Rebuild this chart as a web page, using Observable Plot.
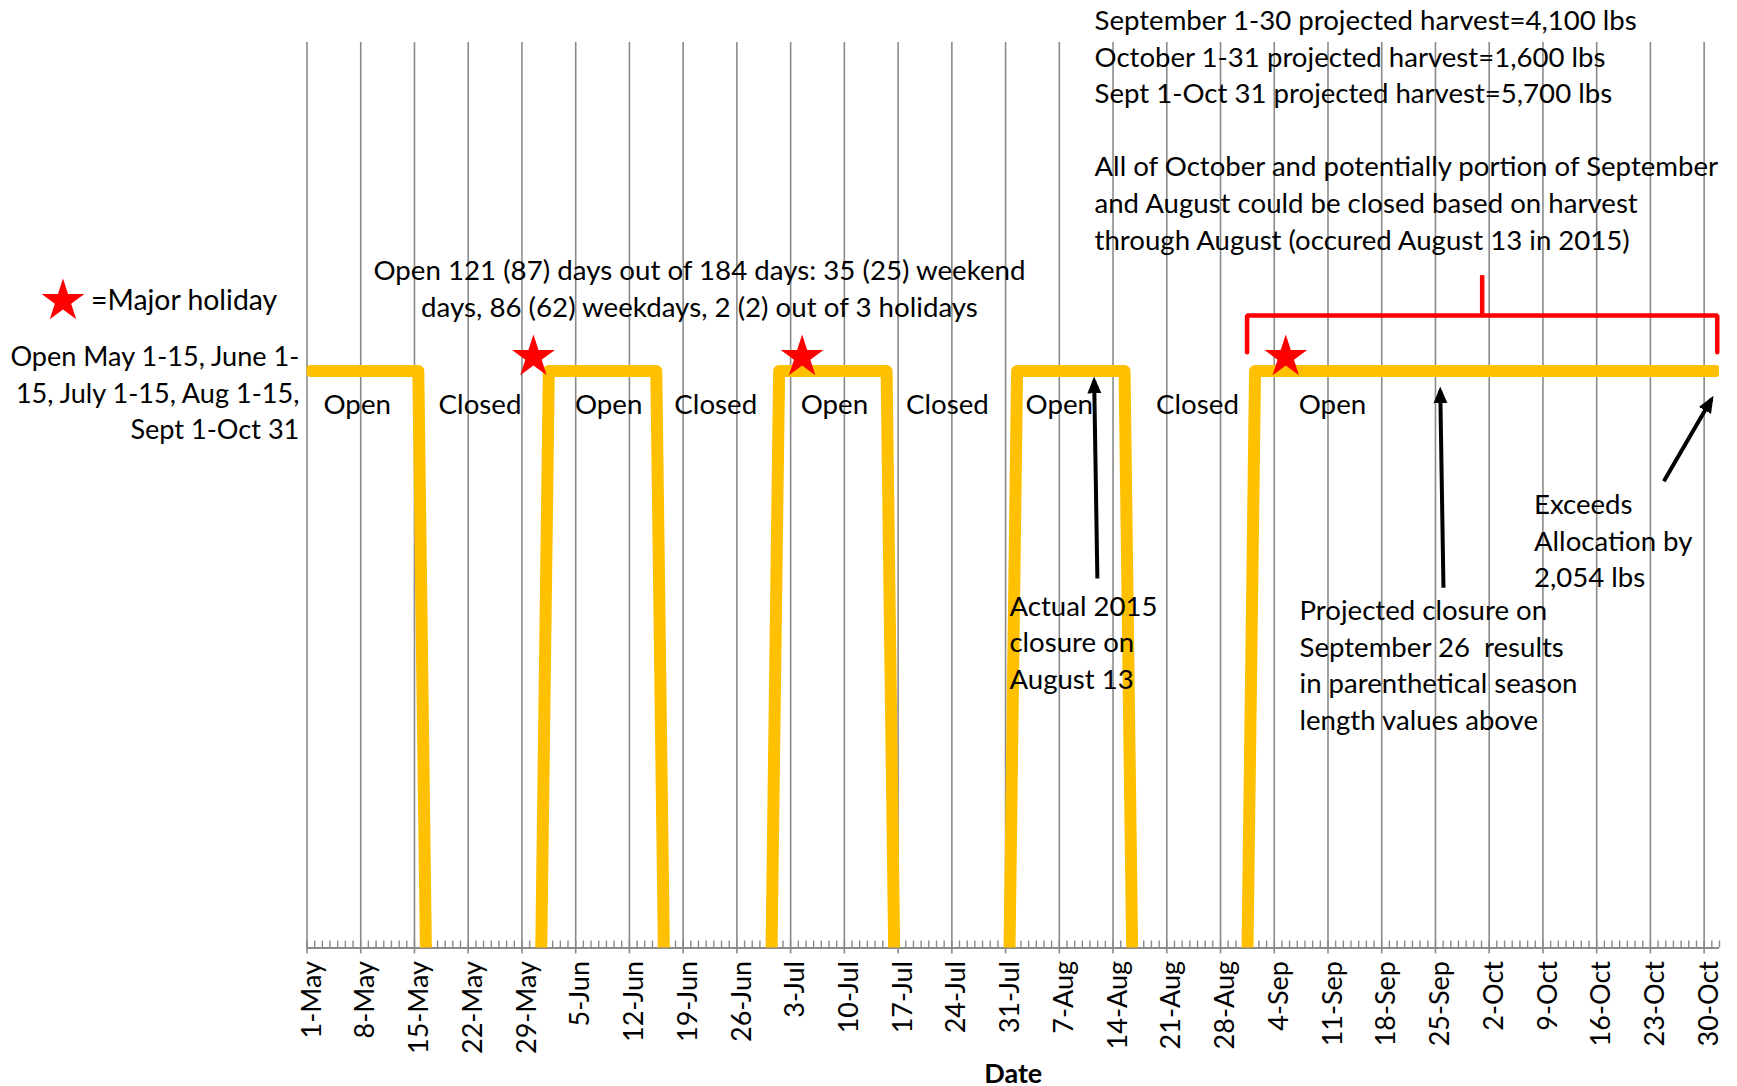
<!DOCTYPE html>
<html><head><meta charset="utf-8">
<script src="https://cdn.jsdelivr.net/npm/d3@7"></script>
<script src="https://cdn.jsdelivr.net/npm/@observablehq/plot@0.6"></script>
<style>
  body { margin: 0; background: #fff; }
  #wrap { position: relative; width: 1737px; height: 1086px; font-family: Lato, sans-serif; }
  #legend { position: absolute; left: 40px; top: 276px; display: flex; align-items: center; font-size: 28.4px; color: #000; }
  #legend svg { display: block; margin-right: 5px; }
</style>
</head><body>
<div id="wrap"><div id="legend"></div></div>
<script>
// ---------- data ----------
const tickDates = ["2016-05-01","2016-05-08","2016-05-15","2016-05-22","2016-05-29","2016-06-05","2016-06-12","2016-06-19","2016-06-26","2016-07-03","2016-07-10","2016-07-17","2016-07-24","2016-07-31","2016-08-07","2016-08-14","2016-08-21","2016-08-28","2016-09-04","2016-09-11","2016-09-18","2016-09-25","2016-10-02","2016-10-09","2016-10-16","2016-10-23","2016-10-30"];
const tickLabels = ["1-May","8-May","15-May","22-May","29-May","5-Jun","12-Jun","19-Jun","26-Jun","3-Jul","10-Jul","17-Jul","24-Jul","31-Jul","7-Aug","14-Aug","21-Aug","28-Aug","4-Sep","11-Sep","18-Sep","25-Sep","2-Oct","9-Oct","16-Oct","23-Oct","30-Oct"];

// season status (1 = open, 0 = closed) at the days where it changes
const lineDates = ["2016-05-01","2016-05-15","2016-05-16","2016-05-31","2016-06-01","2016-06-15","2016-06-16","2016-06-30","2016-07-01","2016-07-15","2016-07-16","2016-07-31","2016-08-01","2016-08-15","2016-08-16","2016-08-31","2016-09-01","2016-10-31"];
const lineStatus = [1,1,0,0,1,1,0,0,1,1,0,0,1,1,0,0,1,1];

// major holidays (Memorial Day, Independence Day, Labor Day)
const holidayDates = ["2016-05-30","2016-07-04","2016-09-05"];
const holidayValues = [1.024,1.024,1.024];

const periodLabels = ["Open","Closed","Open","Closed","Open","Closed","Open","Closed","Open"];
const periodLabelDates = ["2016-05-07T13:00","2016-05-23T13:00","2016-06-09T07:00","2016-06-23T06:00","2016-07-08T17:00","2016-07-23T10:00","2016-08-07T00:00","2016-08-25T00:00","2016-09-11T14:00"];
const periodLabelValue = 0.942;

const noteTexts = [
  "September 1-30 projected harvest=4,100 lbs\nOctober 1-31 projected harvest=1,600 lbs\nSept 1-Oct 31 projected harvest=5,700 lbs\n\nAll of October and potentially portion of September\nand August could be closed based on harvest\nthrough August (occured August 13 in 2015)",
  "Open 121 (87) days out of 184 days: 35 (25) weekend\ndays, 86 (62) weekdays, 2 (2) out of 3 holidays",
  "Open May 1-15, June 1-\n15, July 1-15, Aug 1-15,\nSept 1-Oct 31",
  "Actual 2015\nclosure on\nAugust 13",
  "Projected closure on\nSeptember 26  results\nin parenthetical season\nlength values above",
  "Exceeds\nAllocation by\n2,054 lbs"
];
const noteDates = ["2016-08-11T14:00","2016-06-21T03:00","2016-04-30T00:00","2016-07-31T12:00","2016-09-07T07:00","2016-10-07T20:00"];
const noteValues = [1.415,1.144,0.966,0.540,0.501,0.713];

const arrowTailDates = ["2016-08-11T23:00","2016-09-26T01:00","2016-10-24T18:00"];
const arrowTailValues = [0.646,0.630,0.812];
const arrowTipDates = ["2016-08-11T13:00","2016-09-25T15:00","2016-10-30T23:00"];
const arrowTipValues = [0.984,0.967,0.952];

const bracketDates = ["2016-08-31T11:00","2016-08-31T11:00","2016-10-31T17:00","2016-10-31T17:00"];
const bracketValues = [1.032,1.095,1.095,1.032];
const bracketStemDate = "2016-10-01T02:00";
const bracketStemValues = [1.095,1.163];

const legendLabel = "=Major holiday";
const axisTitle = "Date";

// ---------- build ----------
const toDate = s => new Date(s.length === 10 ? s + "T00:00:00Z" : s + ":00Z");
// daily points sit in the middle of their day (date axis "between tick marks")
const midDay = s => new Date(+toDate(s) + 12 * 3600 * 1000);
const W = 1737, H = 1086, mL = 306.5, mR = 18, mT = 42, mB = 138.5;
const plotH = H - mT - mB;
const fs = 27.7, lh = 36.6 / fs;
const grid = "#8a8a8a";
const yMin = 0.015;

const ticks = tickDates.map(toDate);
const minorDays = d3.utcDay.range(toDate("2016-05-01"), toDate("2016-11-02"));
const lineIdx = lineDates.map((_, i) => i);
const anchors = ["start","middle","end","start","start","start"];
const noteIdx = noteTexts.map((_, i) => i);

const noteMark = (anchor, size) => Plot.text(noteIdx.filter(i => anchors[i] === anchor), {
  x: i => toDate(noteDates[i]), y: i => noteValues[i], text: i => noteTexts[i],
  textAnchor: anchor, lineAnchor: "middle", lineHeight: 36.6 / size, fontSize: size, fill: "#000"
});

const chart = Plot.plot({
  width: W, height: H,
  marginLeft: mL, marginRight: mR, marginTop: mT, marginBottom: mB,
  style: { fontFamily: "Lato, sans-serif", fontSize: fs + "px", background: "#fff", color: "#000", overflow: "visible" },
  x: { type: "utc", domain: [toDate("2016-05-01"), toDate("2016-11-01")], axis: null },
  y: { domain: [yMin, 1.561], axis: null },
  marks: [
    Plot.ruleX(ticks, { stroke: grid, strokeWidth: 1.6, insetBottom: -6 }),
    Plot.ruleX(minorDays, { stroke: grid, strokeWidth: 1.4, insetTop: plotH - 7 }),
    Plot.ruleY([yMin], { stroke: grid, strokeWidth: 2.2 }),
    Plot.text(tickDates.map((_, i) => i), {
      x: i => ticks[i], text: i => tickLabels[i], frameAnchor: "bottom", fontSize: 27,
      rotate: -90, textAnchor: "end", lineAnchor: "middle", dy: 13, dx: 5, fill: "#000"
    }),
    Plot.text([axisTitle], { frameAnchor: "bottom", dy: 126.7, lineAnchor: "middle", fontWeight: "bold", fontSize: 27, fill: "#000" }),
    Plot.line(lineIdx, {
      x: i => midDay(lineDates[i]), y: i => lineStatus[i],
      stroke: "#FFC000", strokeWidth: 12, strokeLinejoin: "round", strokeLinecap: "round", clip: true
    }),
    Plot.line(bracketDates.map((_, i) => i), {
      x: i => toDate(bracketDates[i]), y: i => bracketValues[i],
      stroke: "#FF0000", strokeWidth: 4.5, strokeLinejoin: "miter", curve: "linear"
    }),
    Plot.ruleX([toDate(bracketStemDate)], { y1: bracketStemValues[0], y2: bracketStemValues[1], stroke: "#FF0000", strokeWidth: 4.5 }),
    Plot.dot(holidayDates.map((_, i) => i), {
      x: i => midDay(holidayDates[i]), y: i => holidayValues[i],
      symbol: "star", r: 13.45, fill: "#FF0000", stroke: null
    }),
    Plot.text(periodLabels.map((_, i) => i), {
      x: i => toDate(periodLabelDates[i]), y: periodLabelValue, text: i => periodLabels[i],
      textAnchor: "middle", lineAnchor: "middle", fill: "#000"
    }),
    noteMark("start", 27.6), noteMark("middle", 27.7), noteMark("end", 27.1),
    Plot.link(arrowTailDates.map((_, i) => i), {
      x1: i => toDate(arrowTailDates[i]), y1: i => arrowTailValues[i],
      x2: i => toDate(arrowTipDates[i]), y2: i => arrowTipValues[i],
      stroke: "#000", strokeWidth: 4
    })
  ]
});

document.getElementById("wrap").appendChild(chart);

// filled arrow heads
const svg = d3.select(chart);
svg.append("defs").append("marker")
  .attr("id", "ahead").attr("viewBox", "0 -8 17 16").attr("refX", 13).attr("refY", 0)
  .attr("markerWidth", 17).attr("markerHeight", 16).attr("markerUnits", "userSpaceOnUse").attr("orient", "auto")
  .append("path").attr("d", "M0,-7L17,0L0,7Z").attr("fill", "#000");
svg.selectAll('g[aria-label="link"] path').attr("marker-end", "url(#ahead)");

// legend
const leg = d3.select("#legend");
const ls = leg.append("svg").attr("width", 46).attr("height", 46);
ls.append("path").attr("transform", "translate(23,25)")
  .attr("d", d3.symbol(d3.symbolStar, 568)()).attr("fill", "#FF0000");
leg.append("span").text(legendLabel);
</script>
</body></html>
